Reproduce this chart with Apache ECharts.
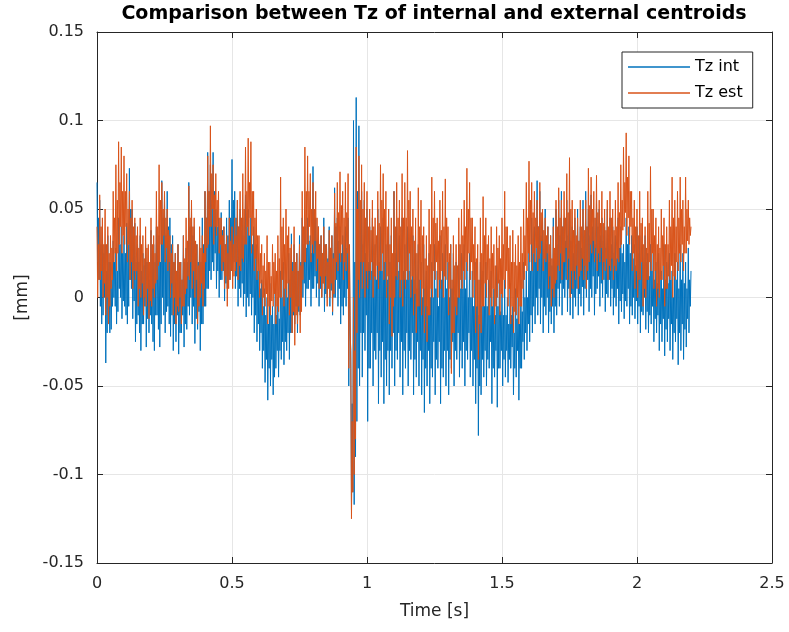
<!DOCTYPE html>
<html>
<head>
<meta charset="utf-8">
<script src="https://cdn.jsdelivr.net/npm/echarts@6/dist/echarts.min.js"></script>
<style>html,body{margin:0;padding:0;background:#fff}#c{width:789px;height:632px}</style>
</head>
<body>
<div id="c"></div>
<script>
// Sample period of both signals (s); sample k is at time k * sampleStep
const sampleStep = 0.0025;
const seriesNames = ['Tz int', 'Tz est'];
const xTickLabels = ['0', '0.5', '1', '1.5', '2', '2.5'];
const yTickLabels = ['-0.15', '-0.1', '-0.05', '0', '0.05', '0.1', '0.15'];

// Tz int [mm] (4 samples per 0.01 s, one row = 0.1 s)
const tzInt = [
.065,.020,.045,.010, .055,-.005,.030,-.015, .040,-.010,.025,.000, .030,-.037,.015,-.020, .035,-.010,.020,-.020, .020,-.018,.010,-.005, .032,.000,.020,-.005, .028,-.015,.015,-.008, .045,.005,.030,.000, .040,-.012,.025,-.002,
.035,-.005,.025,-.010, .042,-.015,.030,-.005, .073,.010,.050,.005, .050,-.012,.035,-.002, .042,-.025,.020,-.015, .030,-.010,.020,-.020, .035,-.030,.015,-.015, .025,-.015,.018,-.005, .030,-.028,.020,-.012, .020,-.020,.010,-.010,
.038,-.015,.025,-.025, .030,-.030,.020,-.010, .040,-.010,.028,-.018, .035,-.028,.020,-.015, .066,.000,.045,-.010, .055,-.020,.035,-.008, .060,-.005,.040,-.015, .045,-.022,.030,-.010, .035,-.030,.020,-.015, .025,-.025,.015,-.010,
.030,-.032,.015,-.020, .020,-.020,.010,-.010, .035,-.028,.020,-.015, .028,-.018,.020,-.005, .065,-.010,.040,.000, .050,-.015,.035,-.005, .040,-.026,.025,-.012, .030,-.018,.020,-.008, .035,-.030,.020,-.015, .045,-.015,.030,-.005,
.060,-.005,.045,.005, .082,.005,.060,.015, .075,.010,.055,.020, .082,.015,.060,.025, .050,.005,.040,.015, .045,.000,.035,.010, .048,.010,.038,.015, .040,-.002,.030,.008, .045,.005,.035,.012, .055,.010,.045,.015,
.078,.015,.055,.020, .060,.005,.045,.012, .055,-.005,.040,.005, .050,.000,.038,.008, .045,-.005,.035,.002, .058,-.011,.040,.000, .050,-.005,.035,.002, .045,-.010,.030,.000, .040,-.020,.025,-.010, .030,-.025,.015,-.015,
.015,-.030,.005,-.020, .010,-.040,-.005,-.030, .005,-.048,-.010,-.035, .000,-.058,-.015,-.040, .008,-.050,-.010,-.035, -.005,-.055,-.015,-.045, .005,-.040,-.010,-.030, .000,-.045,-.012,-.030, .015,-.035,.000,-.025, .020,-.038,.005,-.025,
.010,-.030,.000,-.020, .025,-.035,.010,-.020, .036,-.020,.020,-.010, .030,-.015,.015,-.005, .025,-.020,.015,-.008, .035,-.010,.020,.000, .045,.000,.030,.008, .040,-.005,.028,.005, .045,.005,.032,.010, .035,-.005,.025,.005,
.074,.005,.045,.012, .045,.000,.032,.008, .040,-.005,.030,.005, .035,.000,.025,.008, .045,-.008,.030,.002, .030,.000,.022,.006, .040,-.005,.028,.004, .035,-.010,.025,.000, .062,.000,.040,.010, .045,-.005,.032,.005,
.040,-.015,.025,-.005, .035,-.010,.025,.000, .040,-.005,.028,.005, .045,-.050,.020,-.020, -.030,-.120,-.060,-.110, .100,-.117,.020,-.090, .113,-.070,.060,-.040, .097,-.050,.050,-.020, .060,-.045,.030,-.020, .055,-.030,.025,-.010,
.050,-.070,.020,-.040, .040,-.040,.015,-.020, .045,-.050,.020,-.030, .030,-.035,.010,-.020, .050,-.060,.020,-.030, .040,-.045,.015,-.025, .045,-.060,.020,-.035, .030,-.050,.010,-.030, .050,-.055,.020,-.030, .035,-.040,.015,-.020,
.060,-.050,.025,-.030, .040,-.035,.015,-.020, .035,-.045,.010,-.025, .045,-.055,.015,-.030, .030,-.040,.010,-.020, .040,-.050,.015,-.030, .030,-.035,.010,-.020, .035,-.055,.010,-.035, .025,-.045,.005,-.025, .030,-.050,.010,-.030,
.020,-.055,.000,-.035, .030,-.065,.005,-.040, .015,-.050,-.005,-.030, .025,-.060,.000,-.040, .020,-.045,.000,-.025, .030,-.055,.005,-.035, .015,-.040,-.005,-.025, .035,-.060,.010,-.040, .025,-.045,.000,-.030, .030,-.050,.005,-.030,
.020,-.055,.000,-.035, .030,-.040,.005,-.025, .025,-.050,.000,-.030, .020,-.035,.000,-.020, .030,-.045,.005,-.030, .025,-.040,.005,-.025, .030,-.050,.005,-.030, .020,-.035,.000,-.020, .025,-.045,.000,-.030, .015,-.050,-.005,-.035,
.020,-.060,-.005,-.040, .010,-.078,-.010,-.050, .020,-.055,-.005,-.035, .015,-.045,-.005,-.030, .020,-.050,-.005,-.035, .010,-.040,-.010,-.025, .015,-.060,-.005,-.040, .005,-.045,-.010,-.030, .018,-.062,-.005,-.040, .010,-.040,-.008,-.030,
.005,-.050,-.010,-.035, .010,-.045,-.010,-.030, .000,-.048,-.015,-.035, .008,-.040,-.010,-.028, -.005,-.055,-.020,-.040, .005,-.045,-.012,-.030, .000,-.058,-.015,-.040, .010,-.040,-.008,-.025, .020,-.035,.000,-.020, .015,-.030,.000,-.015,
.035,-.025,.015,-.010, .045,-.020,.025,-.005, .040,-.015,.020,.000, .066,-.010,.040,.005, .060,-.015,.035,.000, .045,-.020,.025,-.005, .050,-.010,.030,.000, .040,-.020,.020,-.008, .035,-.015,.018,-.005, .045,-.020,.025,-.005,
.050,-.010,.030,.005, .055,-.005,.035,.008, .060,-.010,.040,.005, .045,.000,.032,.010, .055,-.008,.035,.005, .050,-.010,.032,.002, .040,-.012,.025,.000, .045,-.005,.030,.005, .050,-.010,.032,.002, .040,-.005,.028,.006,
.055,-.010,.035,.005, .060,.000,.040,.010, .050,-.008,.035,.005, .058,.000,.040,.012, .045,-.010,.030,.002, .055,.005,.040,.012, .050,-.005,.035,.008, .045,.000,.032,.010, .040,-.008,.028,.002, .050,.000,.035,.010,
.045,-.005,.030,.005, .040,-.010,.025,.000, .035,-.005,.022,.005, .045,-.015,.028,-.002, .040,-.008,.025,.002, .030,-.012,.020,-.002, .045,-.005,.030,.005, .040,-.015,.025,-.005, .035,-.010,.022,.000, .030,-.012,.018,-.002,
.040,-.015,.025,-.005, .035,-.020,.020,-.008, .030,-.010,.018,.000, .035,-.018,.020,-.008, .025,-.020,.012,-.010, .030,-.015,.015,-.005, .025,-.025,.010,-.012, .020,-.020,.008,-.010, .025,-.030,.010,-.015, .015,-.025,.005,-.012,
.030,-.033,.010,-.018, .020,-.025,.008,-.012, .025,-.030,.010,-.015, .015,-.035,.000,-.020, .025,-.025,.010,-.012, .020,-.038,.005,-.020, .030,-.030,.010,-.015, .025,-.035,.008,-.018, .020,-.028,.005,-.012, .028,-.020,.010,-.005,
.015
];

// Tz est [mm] (4 samples per 0.01 s, one row = 0.1 s)
const tzEst = [
.040,.000,.030,.010, .058,.010,.040,.015, .045,.000,.030,.008, .050,-.010,.030,.000, .040,-.015,.025,-.005, .035,.005,.028,.010, .060,.020,.045,.025, .075,.015,.055,.025, .088,.030,.065,.040, .085,.025,.060,.035,
.080,.030,.060,.040, .070,.020,.050,.030, .060,.010,.045,.020, .055,.005,.040,.015, .045,.010,.035,.015, .040,-.005,.028,.005, .045,.000,.030,.008, .035,-.010,.022,.000, .040,-.005,.028,.005, .030,-.012,.020,-.002,
.045,-.005,.030,.005, .035,.000,.025,.008, .060,.010,.040,.018, .075,.020,.055,.030, .065,.030,.050,.035, .060,.020,.045,.028, .050,.015,.038,.020, .035,.000,.025,.008, .030,-.010,.020,.000, .025,-.015,.015,-.005,
.030,-.008,.020,.000, .020,-.015,.010,-.005, .035,-.005,.022,.002, .045,.005,.032,.012, .063,.010,.045,.020, .055,.005,.040,.015, .045,.000,.032,.010, .030,-.015,.018,-.005, .040,.000,.028,.008, .035,-.005,.025,.005,
.060,.020,.045,.028, .080,.030,.060,.040, .097,.040,.070,.050, .075,.030,.058,.040, .070,.035,.055,.040, .060,.025,.045,.030, .045,.015,.035,.020, .040,.005,.030,.012, .035,-.005,.025,.005, .045,.010,.032,.015,
.040,.005,.030,.012, .045,.015,.035,.020, .055,.010,.040,.018, .060,.015,.045,.022, .070,.020,.050,.030, .085,.030,.060,.040, .090,.035,.065,.045, .088,.025,.060,.035, .060,.015,.045,.022, .050,.010,.035,.015,
.035,.000,.025,.008, .030,-.010,.018,.000, .025,-.005,.015,.002, .035,-.015,.020,-.005, .020,-.010,.012,-.002, .030,-.005,.020,.002, .025,-.015,.015,-.005, .035,-.008,.022,.000, .068,.000,.040,.010, .045,-.005,.030,.005,
.050,.000,.035,.008, .040,-.010,.028,.000, .030,-.020,.015,-.008, .040,-.027,.020,-.010, .025,-.015,.015,-.005, .030,-.020,.018,-.008, .060,.010,.040,.020, .085,.020,.060,.030, .080,.030,.060,.040, .070,.020,.050,.030,
.065,.025,.050,.032, .060,.015,.045,.022, .040,.005,.030,.012, .035,.000,.025,.008, .040,.005,.030,.012, .030,-.005,.020,.005, .038,.000,.028,.008, .035,-.008,.022,.002, .059,.010,.042,.020, .065,.015,.048,.025,
.071,.020,.052,.030, .060,.010,.045,.020, .065,.015,.048,.025, .070,-.040,.030,-.010, -.040,-.125,-.070,-.110, .000,-.100,-.030,-.080, .085,-.020,.050,.010, .080,.000,.055,.020, .075,.005,.050,.020, .065,.000,.045,.015,
.060,.005,.040,.015, .050,.010,.038,.020, .055,.000,.040,.012, .045,.010,.035,.018, .060,.005,.042,.015, .075,.015,.055,.025, .070,.010,.050,.020, .060,.000,.040,.012, .050,-.015,.030,.000, .045,-.022,.025,-.005,
.060,.000,.040,.012, .065,.010,.045,.020, .055,.000,.040,.010, .070,-.005,.045,.010, .065,.005,.045,.015, .083,.010,.055,.025, .060,.000,.040,.012, .050,-.010,.032,.002, .045,-.020,.025,-.005, .062,-.005,.040,.010,
.055,-.010,.035,.005, .040,-.020,.022,-.005, .035,-.025,.018,-.010, .050,-.010,.030,.005, .068,.000,.045,.015, .060,.010,.042,.020, .045,.000,.032,.010, .055,.005,.038,.015, .060,.000,.040,.012, .067,.010,.045,.020,
.040,-.010,.025,.005, .030,-.043,.010,-.020, .035,-.020,.018,-.005, .030,-.010,.018,.000, .045,.000,.030,.010, .050,.005,.035,.015, .055,.010,.040,.020, .073,.015,.050,.025, .065,.010,.045,.020, .045,.000,.030,.010,
.040,-.020,.022,-.005, .030,-.035,.010,-.015, .045,-.020,.025,-.005, .057,-.005,.035,.008, .045,.000,.030,.010, .035,-.010,.022,.000, .040,-.005,.025,.005, .030,-.015,.018,-.005, .040,.000,.028,.008, .035,-.010,.022,.002,
.045,.000,.030,.010, .060,.005,.040,.015, .040,-.005,.028,.005, .035,-.015,.020,-.005, .038,-.020,.020,-.008, .030,-.010,.018,.000, .035,-.015,.020,-.005, .040,-.005,.025,.005, .050,.010,.035,.018, .065,.015,.045,.025,
.077,.020,.055,.030, .065,.015,.048,.025, .060,.020,.045,.028, .055,.015,.040,.022, .065,.025,.048,.032, .050,.015,.038,.022, .045,.020,.035,.025, .040,.005,.030,.012, .035,-.005,.022,.005, .040,.000,.028,.008,
.055,.010,.040,.018, .062,.015,.045,.025, .055,.010,.040,.020, .060,.020,.045,.028, .070,.010,.048,.022, .079,.000,.050,.015, .055,.005,.038,.015, .050,.010,.035,.018, .045,.005,.032,.012, .055,.015,.040,.022,
.050,.010,.038,.018, .055,.005,.040,.015, .073,.020,.052,.030, .068,.025,.050,.032, .060,.020,.045,.028, .069,.015,.048,.025, .055,.020,.042,.028, .060,.010,.042,.020, .050,.015,.038,.022, .055,.010,.040,.018,
.060,.015,.045,.022, .050,.010,.038,.018, .055,.015,.040,.022, .065,.020,.048,.028, .075,.030,.055,.038, .085,.040,.065,.048, .093,.035,.068,.045, .080,.030,.060,.040, .060,.015,.045,.025, .055,.005,.040,.015,
.050,.000,.035,.010, .060,.010,.042,.020, .045,-.005,.030,.005, .040,.000,.028,.010, .060,.010,.042,.020, .074,.015,.050,.025, .050,.005,.035,.015, .045,-.005,.030,.005, .040,.000,.028,.010, .050,.010,.035,.018,
.045,-.005,.030,.005, .040,.005,.030,.012, .055,.010,.040,.018, .068,.000,.045,.012, .055,.010,.040,.020, .060,.015,.045,.025, .068,.020,.050,.030, .055,.015,.040,.025, .068,.025,.050,.032, .055,.030,.045,.035,
.040
];

const toPairs = arr => arr.map((v, k) => [k * sampleStep, v]);

const chart = echarts.init(document.getElementById('c'), null, {renderer: 'canvas'});
const fontFam = '"DejaVu Sans", "Liberation Sans", Arial, sans-serif';
const ink = '#262626';
const gridLeft = 97, gridRight = 17, gridTop = 32, gridBottom = 69;

chart.setOption({
  animation: false,
  backgroundColor: '#ffffff',
  textStyle: {fontFamily: fontFam},
  title: {
    text: 'Comparison between Tz of internal and external centroids',
    left: 434, textAlign: 'center', top: 5, padding: 0,
    textStyle: {fontFamily: fontFam, fontSize: 19, fontWeight: 'bold', color: '#000', lineHeight: 19}
  },
  legend: {
    data: seriesNames.map(n => ({name: n, icon: 'rect'})),
    orient: 'vertical',
    left: 622, top: 52,
    padding: [6, 10, 6, 6],
    itemGap: 8,
    itemWidth: 62, itemHeight: 1.5,
    borderColor: ink, borderWidth: 1, borderRadius: 0, backgroundColor: '#fff',
    textStyle: {fontFamily: fontFam, fontSize: 16, color: '#000', lineHeight: 18}
  },
  grid: {left: gridLeft, right: gridRight, top: gridTop, bottom: gridBottom, containLabel: false},
  xAxis: [{
    type: 'value', min: 0, max: 2.5, interval: 0.5,
    name: 'Time [s]', nameLocation: 'middle', nameGap: 40,
    nameTextStyle: {fontFamily: fontFam, fontSize: 17, color: ink},
    axisLine: {onZero: false, lineStyle: {color: ink, width: 1}},
    axisTick: {inside: true, length: 6, lineStyle: {color: ink}},
    axisLabel: {fontSize: 16, color: ink, margin: 13, fontFamily: fontFam,
      formatter: (v) => xTickLabels[Math.round(v / 0.5)] ?? ''},
    splitLine: {show: true, lineStyle: {color: '#e6e6e6', width: 1}}
  }, {
    type: 'value', min: 0, max: 2.5, interval: 0.5, position: 'top',
    axisLine: {onZero: false, lineStyle: {color: ink, width: 1}},
    axisTick: {inside: true, length: 6, lineStyle: {color: ink}},
    axisLabel: {show: false}, splitLine: {show: false}
  }],
  yAxis: [{
    type: 'value', min: -0.15, max: 0.15, interval: 0.05,
    name: '[mm]', nameLocation: 'middle', nameGap: 66,
    nameTextStyle: {fontFamily: fontFam, fontSize: 17, color: ink},
    axisLine: {show: true, onZero: false, lineStyle: {color: ink, width: 1}},
    axisTick: {show: true, inside: true, length: 6, lineStyle: {color: ink}},
    axisLabel: {fontSize: 16, color: ink, margin: 13, fontFamily: fontFam,
      formatter: (v) => yTickLabels[Math.round((v + 0.15) / 0.05)] ?? ''},
    splitLine: {show: true, lineStyle: {color: '#e6e6e6', width: 1}}
  }, {
    type: 'value', min: -0.15, max: 0.15, interval: 0.05, position: 'right',
    axisLine: {show: true, onZero: false, lineStyle: {color: ink, width: 1}},
    axisTick: {show: true, inside: true, length: 6, lineStyle: {color: ink}},
    axisLabel: {show: false}, splitLine: {show: false}
  }],
  series: [{
    name: seriesNames[0], type: 'line', data: toPairs(tzInt),
    showSymbol: false, symbol: 'none', silent: true,
    color: '#0072BD', lineStyle: {color: '#0072BD', width: 1}
  }, {
    name: seriesNames[1], type: 'line', data: toPairs(tzEst),
    showSymbol: false, symbol: 'none', silent: true,
    color: '#D95319', lineStyle: {color: '#D95319', width: 1}
  }]
});
</script>
</body>
</html>
